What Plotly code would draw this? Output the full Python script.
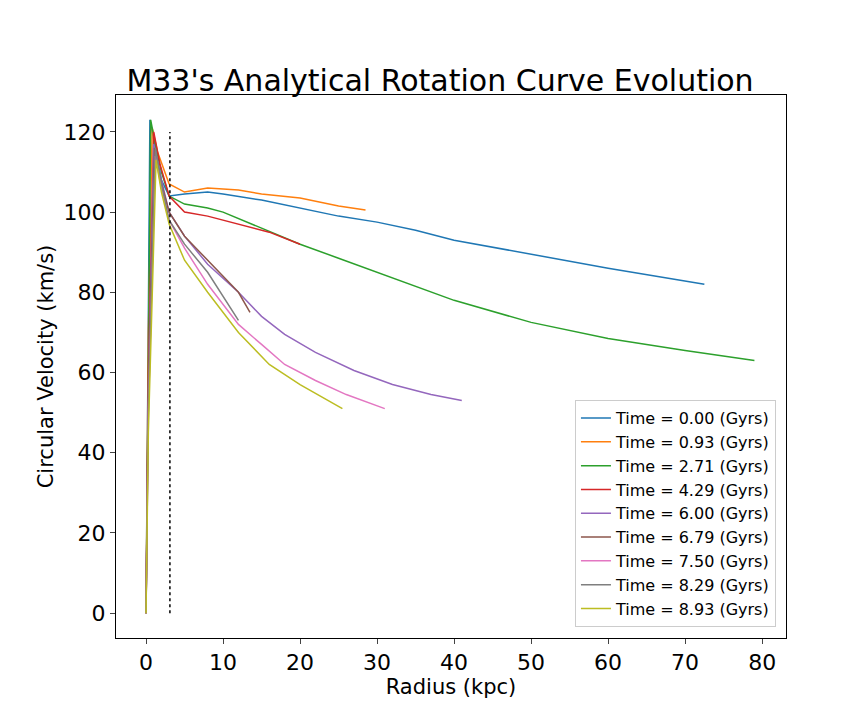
import plotly.graph_objects as go

times = ["0.00", "0.93", "2.71", "4.29", "6.00", "6.79", "7.50", "8.29", "8.93"]
colors = ["#1f77b4", "#ff7f0e", "#2ca02c", "#d62728", "#9467bd",
          "#8c564b", "#e377c2", "#7f7f7f", "#bcbd22"]

r0 = [0, 0.2, 0.5, 1, 2, 3, 5, 8, 10, 15, 20, 25, 30, 35, 40, 50, 60, 72.5]
v0 = [0, 60, 123, 118, 108, 104, 104.5, 105, 104.5, 103, 101, 99, 97.5, 95.5, 93, 89.5, 86, 82]
r1 = [0, 0.3, 0.8, 1.5, 3, 5, 8, 12, 15, 20, 25, 28.5]
v1 = [0, 70, 121, 115, 107, 105, 106, 105.5, 104.5, 103.5, 101.5, 100.5]
r2 = [0, 0.3, 0.6, 1.2, 2, 3, 5, 8, 10, 15, 20, 25, 30, 40, 50, 60, 70, 79]
v2 = [0, 70, 123, 117, 110, 104, 102, 101, 100, 96, 92, 88.5, 85, 78, 72.5, 68.5, 65.5, 63]
r3 = [0, 0.3, 1, 1.8, 3, 5, 8, 12, 16, 20]
v3 = [0, 60, 120, 112, 104, 100, 99, 97, 95, 92]
r4 = [0, 0.3, 1, 2, 3, 5, 8, 12, 15, 18, 22, 27, 32, 37, 41]
v4 = [0, 55, 117, 108, 100, 94, 87, 80, 74, 69.5, 65, 60.5, 57, 54.5, 53]
r5 = [0, 0.3, 1.1, 2, 3, 5, 7, 10, 12, 13.5]
v5 = [0, 55, 116, 107, 100, 94, 90, 84, 80, 75]
r6 = [0, 0.3, 1.2, 2, 3, 5, 8, 12, 15, 18, 22, 26, 31]
v6 = [0, 50, 114, 106, 98, 91, 82, 72, 67, 62, 58, 54.5, 51]
r7 = [0, 0.3, 1.2, 2, 3, 5, 8, 10, 12]
v7 = [0, 50, 116, 107, 98, 92, 85, 79, 73]
r8 = [0, 0.3, 1.3, 2, 3, 5, 8, 12, 16, 20, 25.5]
v8 = [0, 45, 113, 105, 97, 88, 80, 70, 62, 57, 51]

radii = [r0, r1, r2, r3, r4, r5, r6, r7, r8]
vels = [v0, v1, v2, v3, v4, v5, v6, v7, v8]

# dotted marker line
r_line = [3.1, 3.1]
v_line = [0, 120]

fig = go.Figure()
for t, c, r, v in zip(times, colors, radii, vels):
    fig.add_trace(go.Scatter(x=r, y=v, mode="lines", line=dict(color=c, width=1.5),
                             name=f"Time = {t} (Gyrs)"))
fig.add_trace(go.Scatter(x=r_line, y=v_line, mode="lines", showlegend=False,
                         line=dict(color="black", dash="dot", width=1.5)))

axis = dict(showline=True, linecolor="black", mirror=True, ticks="outside", automargin=False,
            showgrid=False, zeroline=False, tickfont=dict(size=22, color="black"))
fig.update_layout(
    width=864, height=720, plot_bgcolor="white", paper_bgcolor="white",
    font=dict(family="DejaVu Sans", color="black"),
    margin=dict(l=108, r=86, t=87, b=90, autoexpand=False),
    title=dict(text="M33's Analytical Rotation Curve Evolution", x=0.5, xanchor="center",
               y=0.885, yanchor="bottom", font=dict(size=30)),
    xaxis=dict(axis, range=[-3.9, 83.1], dtick=10,
               title=dict(text="Radius (kpc)", font=dict(size=21), standoff=2)),
    yaxis=dict(axis, range=[-6.2, 129.2], dtick=20,
               title=dict(text="Circular Velocity (km/s)", font=dict(size=21), standoff=4)),
    legend=dict(x=0.985, y=0.02, xanchor="right", yanchor="bottom",
                bordercolor="#cccccc", borderwidth=1, font=dict(size=16), tracegroupgap=0),
)
fig.write_html("out.html")
